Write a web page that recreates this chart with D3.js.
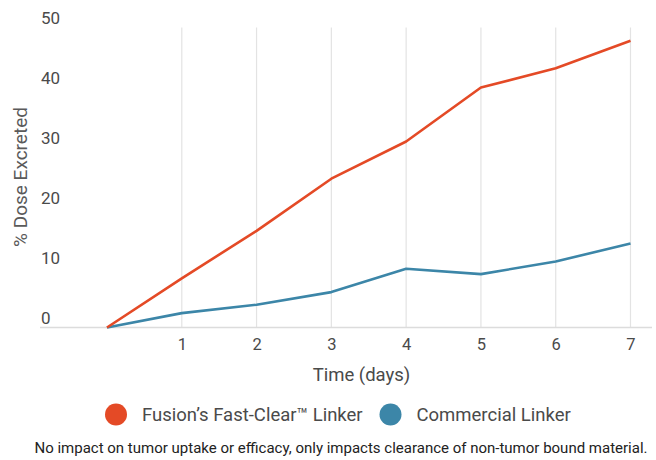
<!DOCTYPE html>
<html>
<head>
<meta charset="utf-8">
<script src="https://cdn.jsdelivr.net/npm/d3@7"></script>
<style>
  body { margin: 0; background: #fff; }
  text { font-family: Roboto, "Noto Sans", sans-serif; }
</style>
</head>
<body>
<div id="chart"></div>
<script>
// data
const days = [0, 1, 2, 3, 4, 5, 6, 7];
const fusionValues = [0, 8.2, 16.1, 24.8, 31, 40, 43.2, 47.8];
const commercialValues = [0, 2.4, 3.8, 5.9, 9.8, 8.9, 11, 14];
const yTicks = [0, 10, 20, 30, 40, 50];
const xTicks = [1, 2, 3, 4, 5, 6, 7];
const seriesNames = ["Fusion\u2019s Fast-Clear\u2122 Linker", "Commercial Linker"];
const seriesColors = ["#e44a26", "#3c86a8"];

let width = 656, height = 460;

let svg = d3.select("#chart").append("svg")
    .attr("width", width)
    .attr("height", height);

// scales
let xScale = d3.scaleLinear().domain([0, 7]).range([107, 630.5]);
let yScale = d3.scaleLinear().domain([0, 50]).range([327.5, 27.5]);

// vertical gridlines
svg.append("g")
    .selectAll("line")
    .data(xTicks)
    .enter()
    .append("line")
    .attr("x1", d => xScale(d))
    .attr("x2", d => xScale(d))
    .attr("y1", yScale(50))
    .attr("y2", yScale(0))
    .attr("stroke", "#e3e3e3")
    .attr("stroke-width", 1.2);

// baseline
svg.append("line")
    .attr("x1", 40)
    .attr("x2", 652)
    .attr("y1", yScale(0))
    .attr("y2", yScale(0))
    .attr("stroke", "#dcdcdc")
    .attr("stroke-width", 1.5);

// x axis labels
let xAxis = svg.append("g")
    .attr("transform", "translate(0," + (yScale(0) + 7.5) + ")")
    .call(d3.axisBottom(xScale).tickValues(xTicks).tickSize(0).tickFormat(d3.format("d")));
xAxis.select(".domain").remove();
xAxis.selectAll("text")
    .attr("font-size", "16.5px")
    .attr("fill", "#4a4a4a")
    .attr("font-family", "Roboto, sans-serif");

// y axis labels (left aligned, sitting above their value)
svg.append("g")
    .selectAll("text")
    .data(yTicks)
    .enter()
    .append("text")
    .attr("x", 41)
    .attr("y", d => yScale(d) - 9.5)
    .attr("dy", "0.35em")
    .attr("text-anchor", "start")
    .attr("font-size", "17px")
    .attr("fill", "#4a4a4a")
    .text(d => d);

// axis titles
svg.append("text")
    .attr("text-anchor", "middle")
    .attr("transform", "translate(27,177) rotate(-90)")
    .attr("font-size", "19px")
    .attr("fill", "#5a5a5a")
    .text("% Dose Excreted");

svg.append("text")
    .attr("text-anchor", "middle")
    .attr("x", 361.5)
    .attr("y", 381)
    .attr("font-size", "18.5px")
    .attr("fill", "#4a4a4a")
    .text("Time (days)");

// lines
let line = d3.line()
    .x((d, i) => xScale(days[i]))
    .y(d => yScale(d));

[commercialValues, fusionValues].forEach(function (vals, k) {
    let color = k === 0 ? seriesColors[1] : seriesColors[0];
    svg.append("path")
        .datum(vals)
        .attr("fill", "none")
        .attr("stroke", color)
        .attr("stroke-width", 2.6)
        .attr("stroke-linejoin", "round")
        .attr("d", line);
});

// legend
let legendX = [116, 390.5];
let legend = svg.append("g");
seriesNames.forEach(function (name, i) {
    legend.append("circle")
        .attr("cx", legendX[i])
        .attr("cy", 414.5)
        .attr("r", 11)
        .attr("fill", seriesColors[i]);
    legend.append("text")
        .attr("x", legendX[i] + 26)
        .attr("y", 414.5)
        .attr("dy", "0.35em")
        .attr("font-size", "18.5px")
        .attr("fill", "#4a4a4a")
        .text(name);
});

// footnote
svg.append("text")
    .attr("text-anchor", "middle")
    .attr("x", 341)
    .attr("y", 452.5)
    .attr("font-size", "15px")
    .attr("fill", "#222")
    .text("No impact on tumor uptake or efficacy, only impacts clearance of non-tumor bound material.");
</script>
</body>
</html>
